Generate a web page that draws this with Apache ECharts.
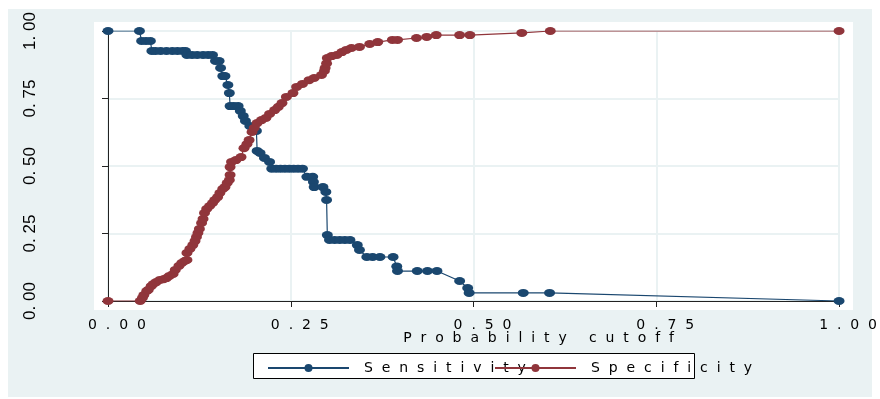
<!DOCTYPE html>
<html>
<head>
<meta charset="utf-8">
<script src="https://cdn.jsdelivr.net/npm/echarts@6/dist/echarts.min.js"></script>
<style>
  html, body { margin: 0; padding: 0; background: #fff; }
  #main { width: 880px; height: 399px; }
</style>
</head>
<body>
<div id="main"></div>
<script>
// sensitivity curve
const sensCutoff = [0.000, 0.043, 0.046, 0.052, 0.058, 0.060, 0.065, 0.072, 0.080, 0.088,
  0.095, 0.102, 0.106, 0.108, 0.115, 0.122, 0.130, 0.137, 0.143, 0.147,
  0.152, 0.154, 0.157, 0.160, 0.164, 0.166, 0.167, 0.172, 0.178, 0.181,
  0.185, 0.188, 0.194, 0.203, 0.204, 0.208, 0.214, 0.221, 0.224, 0.230,
  0.236, 0.242, 0.248, 0.254, 0.260, 0.266, 0.272, 0.280, 0.281, 0.282,
  0.294, 0.298, 0.299, 0.300, 0.303, 0.310, 0.317, 0.324, 0.331, 0.341,
  0.344, 0.354, 0.362, 0.372, 0.390, 0.395, 0.396, 0.423, 0.437, 0.450,
  0.481, 0.492, 0.494, 0.568, 0.604, 1.000];
const sensitivity = [1.000, 1.000, 0.963, 0.963, 0.963, 0.926, 0.926, 0.926, 0.926, 0.926,
  0.926, 0.926, 0.926, 0.911, 0.911, 0.911, 0.911, 0.911, 0.911, 0.889,
  0.889, 0.863, 0.833, 0.833, 0.800, 0.770, 0.722, 0.722, 0.722, 0.704,
  0.685, 0.667, 0.648, 0.630, 0.556, 0.548, 0.530, 0.515, 0.490, 0.490,
  0.490, 0.490, 0.490, 0.490, 0.490, 0.490, 0.460, 0.460, 0.441, 0.422,
  0.422, 0.404, 0.374, 0.244, 0.226, 0.226, 0.226, 0.226, 0.226, 0.207,
  0.189, 0.163, 0.163, 0.163, 0.163, 0.128, 0.111, 0.111, 0.111, 0.111,
  0.074, 0.048, 0.030, 0.030, 0.030, 0.000];

// specificity curve
const specCutoff = [0.000, 0.044, 0.047, 0.049, 0.053, 0.055, 0.059, 0.062, 0.066, 0.071,
  0.076, 0.080, 0.084, 0.089, 0.092, 0.097, 0.101, 0.105, 0.108, 0.108,
  0.112, 0.116, 0.119, 0.121, 0.123, 0.125, 0.128, 0.130, 0.132, 0.135,
  0.139, 0.143, 0.146, 0.150, 0.153, 0.157, 0.160, 0.163, 0.166, 0.167,
  0.167, 0.169, 0.175, 0.182, 0.186, 0.190, 0.193, 0.197, 0.200, 0.204,
  0.210, 0.216, 0.221, 0.228, 0.233, 0.238, 0.244, 0.253, 0.258, 0.266,
  0.275, 0.282, 0.292, 0.296, 0.297, 0.299, 0.300, 0.306, 0.313, 0.320,
  0.326, 0.333, 0.344, 0.358, 0.369, 0.389, 0.396, 0.422, 0.436, 0.449,
  0.481, 0.495, 0.566, 0.605, 1.000];
const specificity = [0.000, 0.000, 0.011, 0.022, 0.037, 0.041, 0.055, 0.063, 0.070, 0.078,
  0.081, 0.085, 0.093, 0.100, 0.115, 0.130, 0.141, 0.148, 0.152, 0.178,
  0.193, 0.207, 0.222, 0.237, 0.252, 0.267, 0.289, 0.304, 0.326, 0.341,
  0.352, 0.363, 0.374, 0.385, 0.400, 0.415, 0.422, 0.437, 0.448, 0.467,
  0.496, 0.515, 0.522, 0.533, 0.566, 0.581, 0.596, 0.626, 0.641, 0.659,
  0.670, 0.678, 0.693, 0.707, 0.719, 0.733, 0.756, 0.770, 0.793, 0.804,
  0.818, 0.826, 0.837, 0.852, 0.863, 0.880, 0.900, 0.907, 0.911, 0.922,
  0.930, 0.937, 0.941, 0.952, 0.959, 0.967, 0.967, 0.974, 0.978, 0.985,
  0.985, 0.985, 0.993, 1.000, 1.000];

const axisTitle = 'Probability cutoff';
const seriesNames = ['Sensitivity', 'Specificity'];

const blue = '#1a476f';
const red = '#90353b';
const gridColor = '#eaf2f3';
const font = 'DejaVu Sans';

// Stata-like wide lettering
function spaced(s) {
  return s.split('').join('  ');
}

function pairs(xs, ys) {
  return xs.map((x, i) => [x, ys[i]]);
}

const chart = echarts.init(document.getElementById('main'));

const lineSeries = (name, color, data) => ({
  name: name,
  type: 'line',
  data: data,
  symbol: 'circle',
  symbolSize: [11, 8],
  showAllSymbol: true,
  lineStyle: { color: color, width: 1.2 },
  itemStyle: { color: color },
  emphasis: { disabled: true }
});

function legendFor(name, left) {
  return {
    show: true,
    left: left,
    top: 356,
    itemWidth: 81,
    itemHeight: 10,
    selectedMode: false,
    data: [name],
    textStyle: { fontFamily: font, fontSize: 14, color: '#000', padding: [0, 0, 0, 10] },
    formatter: n => spaced(n)
  };
}

chart.setOption({
  backgroundColor: '#fff',
  animation: false,
  graphic: [
    { type: 'rect', z: -10, shape: { x: 8, y: 9, width: 864, height: 388 },
      style: { fill: gridColor } },
    { type: 'rect', z: -9, shape: { x: 94, y: 22, width: 759, height: 288 },
      style: { fill: '#fff' } },
    { type: 'rect', z: -8, shape: { x: 253.5, y: 353.5, width: 441, height: 25 },
      style: { fill: '#fff', stroke: '#000', lineWidth: 1 } }
  ],
  grid: { left: 108, right: 40, top: 31, bottom: 98 },
  xAxis: {
    type: 'value',
    min: 0, max: 1, interval: 0.25,
    offset: 9,
    axisLine: { lineStyle: { color: '#222', width: 1 } },
    axisTick: { length: 6, lineStyle: { color: '#222' } },
    axisLabel: {
      fontFamily: font, fontSize: 14, color: '#000', margin: 8,
      padding: [0, 0, 0, 18],
      formatter: v => spaced(v.toFixed(2))
    },
    splitLine: { show: true, lineStyle: { color: gridColor, width: 2 } },
    name: spaced(axisTitle),
    nameLocation: 'middle',
    nameGap: 21,
    nameMoveOverlap: false,
    nameTextStyle: { fontFamily: font, fontSize: 14, color: '#000', padding: [0, 0, 0, 130] }
  },
  yAxis: {
    type: 'value',
    min: 0, max: 1, interval: 0.25,
    offset: 14,
    axisLine: { show: true, lineStyle: { color: '#222', width: 1 } },
    axisTick: { show: true, length: 6, lineStyle: { color: '#222' } },
    axisLabel: {
      fontFamily: 'Liberation Sans', fontSize: 17, color: '#000', rotate: 90, margin: 55,
      formatter: v => v.toFixed(2).replace('.', '. ')
    },
    splitLine: { show: true, lineStyle: { color: gridColor, width: 2 } }
  },
  legend: [
    legendFor(seriesNames[0], 262),
    legendFor(seriesNames[1], 489)
  ],
  series: [
    lineSeries(seriesNames[0], blue, pairs(sensCutoff, sensitivity)),
    lineSeries(seriesNames[1], red, pairs(specCutoff, specificity))
  ]
});
</script>
</body>
</html>
